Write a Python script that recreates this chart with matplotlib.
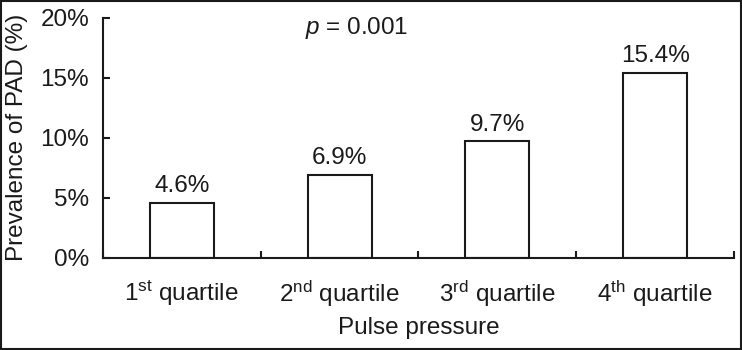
import matplotlib
matplotlib.use("Agg")
import matplotlib.pyplot as plt
from matplotlib.patches import Rectangle

plt.rcParams['font.family'] = ['Liberation Sans', 'DejaVu Sans']
plt.rcParams['mathtext.fontset'] = 'custom'
plt.rcParams['mathtext.rm'] = 'Liberation Sans'
plt.rcParams['mathtext.it'] = 'Liberation Sans:italic'

categories = ["1$^{\\mathrm{st}}$ quartile", "2$^{\\mathrm{nd}}$ quartile",
              "3$^{\\mathrm{rd}}$ quartile", "4$^{\\mathrm{th}}$ quartile"]
values = [4.6, 6.9, 9.7, 15.4]
value_labels = ["4.6%", "6.9%", "9.7%", "15.4%"]
yticks = [0, 5, 10, 15, 20]
ytick_labels = ["0%", "5%", "10%", "15%", "20%"]

FS = 17.5
C = '#1a1a1a'

fig = plt.figure(figsize=(7.42, 3.5), dpi=100)
ax = fig.add_axes([0.1388, 0.2629, 0.8504, 0.6871])

xs = [i + 0.5 for i in range(len(values))]
ax.bar(xs, values, width=0.405, facecolor='white', edgecolor=C, linewidth=1.5)
for x, v, lab in zip(xs, values, value_labels):
    ax.annotate(lab, (x, v), xytext=(0, 4), textcoords='offset points',
                ha='center', va='bottom', fontsize=FS, color=C)

ax.set_xlim(0, 4)
ax.set_ylim(0, 20)
ax.set_xticks([0, 1, 2, 3, 4])
ax.set_xticklabels([])
ax.set_xticks(xs, minor=True)
ax.set_xticklabels(categories, minor=True, fontsize=FS, color=C)
ax.tick_params(axis='x', which='major', direction='in', length=5, width=1.5, color=C)
ax.tick_params(axis='x', which='minor', length=0, pad=15)
ax.set_yticks(yticks)
ax.set_yticklabels(ytick_labels, fontsize=FS, color=C)
ax.tick_params(axis='y', direction='in', length=5, width=1.5, color=C, pad=10)

for s in ['top', 'right']:
    ax.spines[s].set_visible(False)
for s in ['left', 'bottom']:
    ax.spines[s].set_linewidth(1.5)
    ax.spines[s].set_color(C)

ax.set_ylabel("Prevalence of PAD (%)", fontsize=FS, color=C, labelpad=9)
ax.set_xlabel("Pulse pressure", fontsize=FS, color=C, labelpad=6)

ax.text(1.61, 19.13, "$p$ = 0.001", ha='center', va='center', fontsize=FS, color=C)

fig.patches.append(Rectangle((0.001, 0.002), 0.997, 0.995, transform=fig.transFigure,
                             fill=False, edgecolor=C, linewidth=1.5))

fig.savefig("out.png", dpi=100)
